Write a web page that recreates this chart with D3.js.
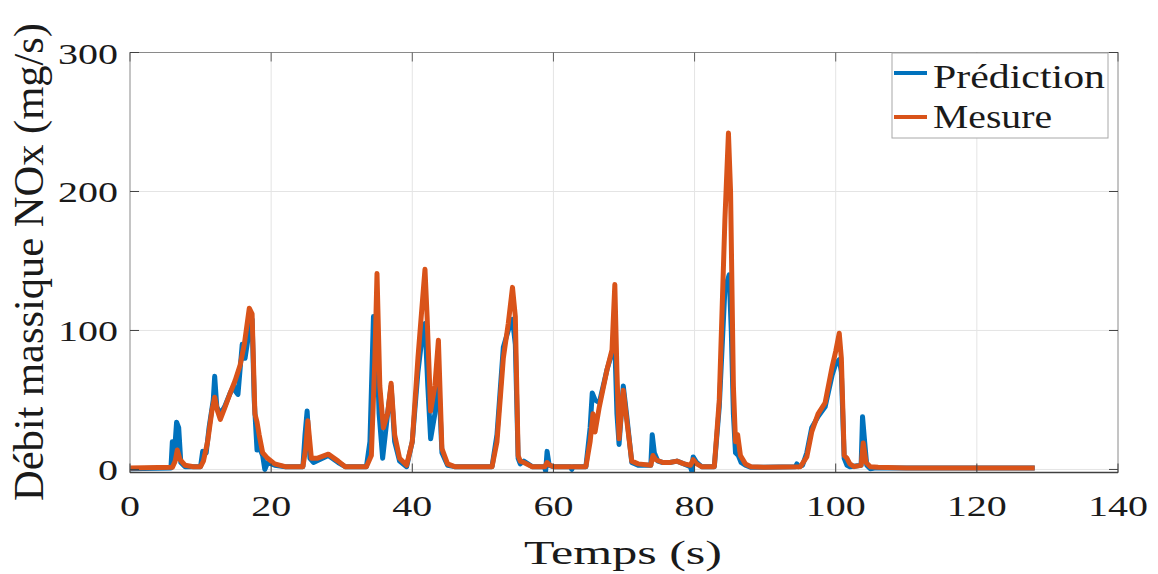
<!DOCTYPE html>
<html>
<head>
<meta charset="utf-8">
<script src="https://cdn.jsdelivr.net/npm/d3@7"></script>
<style>
  html, body { margin: 0; padding: 0; background: #fff; }
  svg { display: block; }
  text { font-family: "Liberation Serif", "DejaVu Serif", "Times New Roman", serif; fill: #1a1a1a; font-weight: normal; }
</style>
</head>
<body>
<svg id="chart" width="1158" height="574"></svg>
<script>
// ---------------- DATA ----------------
const xTicks = [0, 20, 40, 60, 80, 100, 120, 140];
const yTicks = [0, 100, 200, 300];
const seriesNames = ["Prédiction", "Mesure"];
const xLabel = "Temps (s)";
const yLabel = "Débit massique NOx (mg/s)";

// Prédiction (blue)
const timePred = [0, 5.8, 6.0, 6.3, 6.6, 6.9, 7.2, 7.8, 10.0, 10.3, 10.8, 11.2, 11.8, 12.0, 12.3, 12.8, 13.4, 14.2, 14.7, 15.0, 15.3, 15.9, 16.3, 16.9, 17.3, 17.6, 18.0, 18.4, 18.8, 19.1, 19.5, 20.5, 22,
  24.5, 24.8, 25.1, 25.5, 26, 28.1, 29.5, 30.5, 33.5, 34.0, 34.5, 34.9, 35.3, 35.8, 36.5, 37.0, 37.5, 38.2, 39.2, 40.0, 40.8, 41.5, 41.8, 42.2, 42.6, 43.2, 43.7, 44.2, 45.0, 46,
  51.3, 52.0, 52.9, 53.6, 54.2, 54.6, 55.0, 55.3, 55.8, 57, 58.7, 58.9, 59.1, 59.4, 60, 62.4, 62.6, 62.8, 64.6, 65.2, 65.5, 65.9, 66.5, 67.6, 68.3, 68.7, 69.0, 69.3, 69.9, 70.4, 71.1, 72,
  73.8, 74.0, 74.3, 74.8, 75.5, 76.5, 77.5, 78.5, 79.4, 79.6, 79.8, 80.3, 81, 82.8, 83.5, 84.3, 84.9, 85.2, 85.5, 85.8, 86.2, 86.6, 87.2, 88, 94.3, 94.5, 94.7, 95.3, 95.9, 96.6, 97.5, 98.5,
  99.5, 100.0, 100.5, 100.8, 101.2, 101.6, 102.0, 103.6, 103.8, 104.1, 104.4, 104.9, 105.5, 110, 120, 128.2];
const valPred = [0.5, 1, 20, 12, 34, 30, 5, 2, 2, 13, 12, 30, 50, 67, 45, 40, 45, 55, 60, 56, 54, 90, 80, 100, 108, 50, 14, 15, 10, 0, 5, 3, 2,
  2, 25, 42, 8, 5, 10, 5, 2, 2, 20, 110, 100, 40, 8, 40, 60, 20, 6, 2, 20, 70, 100, 105, 60, 22, 40, 70, 12, 3, 2,
  2, 25, 88, 100, 108, 90, 8, 4, 6, 2, 2, -1, 13, 3, 2, 2, 0, 2, 2, 30, 55, 50, 48, 72, 84, 90, 40, 18, 60, 38, 5, 3,
  3, 25, 12, 6, 5, 5, 6, 4, 2, -1, 9, 5, 2, 2, 45, 130, 140, 100, 40, 12, 10, 5, 3, 1.5, 2, 4, 2, 3, 12, 30, 38, 45,
  68, 76, 79, 70, 8, 3, 2, 3, 38, 20, 3, 0.5, 1, 1, 1, 1];

// Mesure (orange)
const timeMes = [0, 6.0, 6.4, 6.7, 7.1, 7.8, 9.0, 10.0, 10.4, 11.0, 11.6, 12.0, 12.4, 12.8, 13.4, 14.2, 14.9, 15.6, 16.2, 16.9, 17.3, 17.7, 18.0, 18.3, 18.8, 19.5, 20.5, 22,
  24.5, 24.9, 25.2, 25.7, 26.5, 28.1, 29.5, 30.5, 33.5, 34.2, 34.7, 35.0, 35.4, 35.9, 36.5, 37.0, 37.5, 38.2, 39.2, 40.0, 40.8, 41.5, 41.8, 42.1, 42.6, 43.2, 43.7, 44.2, 45.0, 46,
  51.3, 52.0, 52.9, 53.6, 54.2, 54.6, 55.0, 55.3, 55.8, 57, 58.8, 59.1, 59.5, 60, 64.6, 65.2, 65.6, 65.9, 66.5, 67.6, 68.3, 68.7, 69.0, 69.3, 69.9, 70.4, 71.1, 72,
  73.8, 74.1, 74.5, 75.5, 76.5, 77.5, 78.5, 79.4, 79.8, 80.3, 81, 82.8, 83.5, 84.3, 84.8, 85.1, 85.5, 85.8, 86.1, 86.5, 87.2, 88, 90, 95.0, 95.9, 96.6, 97.5, 98.5,
  99.5, 100.0, 100.5, 100.8, 101.2, 101.6, 102.0, 102.6, 103.6, 103.9, 104.3, 104.9, 106, 110, 120, 128.2];
const valMes = [1, 1.5, 6, 14, 7, 3, 2, 2, 6, 20, 42, 52, 42, 36, 44, 55, 64, 75, 90, 116, 112, 40, 34, 25, 12, 8, 4, 2,
  2, 15, 35, 8, 8, 11, 6, 2, 2, 10, 80, 141, 60, 30, 40, 62, 25, 8, 3, 20, 80, 125, 144, 110, 42, 60, 93, 15, 4, 2,
  2, 20, 80, 105, 131, 110, 10, 6, 5, 2, 2, 5, 3, 2, 2, 20, 40, 27, 45, 72, 86, 133, 70, 22, 57, 35, 6, 4,
  3, 10, 7, 5, 5, 6, 4, 3, 7, 4, 2, 2, 50, 180, 242, 200, 60, 20, 25, 10, 4, 2, 1.5, 2, 9, 27, 40, 48,
  74, 85, 98, 80, 10, 8, 4, 2, 3, 19, 5, 2, 1.5, 1, 1, 1];

// ---------------- LAYOUT ----------------
const svg = d3.select("#chart");
const L = 130, R = 1118, T = 52.5, B = 472.5;
const x = d3.scaleLinear().domain([0, 140]).range([L, R]);
const y = d3.scaleLinear().domain([-2.2, 300]).range([B, T]);
const blue = "#0072BD", orange = "#D95319";

// grid
svg.append("g").selectAll("line").data(xTicks.slice(1, -1)).join("line")
  .attr("x1", d => x(d)).attr("x2", d => x(d)).attr("y1", T).attr("y2", B)
  .attr("stroke", "#e4e4e4").attr("stroke-width", 1);
svg.append("g").selectAll("line").data(yTicks.slice(0, -1)).join("line")
  .attr("x1", L).attr("x2", R).attr("y1", d => y(d)).attr("y2", d => y(d))
  .attr("stroke", "#e4e4e4").attr("stroke-width", 1);

// clip
svg.append("clipPath").attr("id", "clip").append("rect")
  .attr("x", L).attr("y", T).attr("width", R - L).attr("height", B - T);

const line = d3.line().x(d => x(d[0])).y(d => y(d[1])).curve(d3.curveLinear);
const predData = timePred.map((t, i) => [t, valPred[i]]);
const mesData = timeMes.map((t, i) => [t, valMes[i]]);

const plot = svg.append("g").attr("clip-path", "url(#clip)");
plot.append("path").datum(predData).attr("d", line)
  .attr("fill", "none").attr("stroke", blue).attr("stroke-width", 5)
  .attr("stroke-linejoin", "round");
plot.append("path").datum(mesData).attr("d", line)
  .attr("fill", "none").attr("stroke", orange).attr("stroke-width", 5)
  .attr("stroke-linejoin", "round");

// axes box
svg.append("rect").attr("x", L).attr("y", T).attr("width", R - L).attr("height", B - T)
  .attr("fill", "none").attr("stroke", "#8a8a8a").attr("stroke-width", 1);
svg.append("line").attr("x1", L).attr("x2", R).attr("y1", B).attr("y2", B)
  .attr("stroke", "#404040").attr("stroke-width", 1.3);

// ticks (inward, all sides)
const tk = 9;
xTicks.forEach(d => {
  svg.append("line").attr("x1", x(d)).attr("x2", x(d)).attr("y1", B).attr("y2", B - tk)
    .attr("stroke", "#404040").attr("stroke-width", 1);
  svg.append("line").attr("x1", x(d)).attr("x2", x(d)).attr("y1", T).attr("y2", T + tk)
    .attr("stroke", "#606060").attr("stroke-width", 1);
});
yTicks.forEach(d => {
  svg.append("line").attr("x1", L).attr("x2", L + tk).attr("y1", y(d)).attr("y2", y(d))
    .attr("stroke", "#404040").attr("stroke-width", 1);
  svg.append("line").attr("x1", R).attr("x2", R - tk).attr("y1", y(d)).attr("y2", y(d))
    .attr("stroke", "#404040").attr("stroke-width", 1);
});

// tick labels
svg.append("g").selectAll("text").data(xTicks).join("text")
  .attr("x", d => x(d)).attr("y", 516)
  .attr("text-anchor", "middle").attr("font-size", 30)
  .attr("textLength", d => String(d).length * 20).attr("lengthAdjust", "spacingAndGlyphs")
  .text(d => d);
svg.append("g").selectAll("text").data(yTicks).join("text")
  .attr("x", 118).attr("y", d => y(d) + 11)
  .attr("text-anchor", "end").attr("font-size", 30)
  .attr("textLength", d => String(d).length * 20).attr("lengthAdjust", "spacingAndGlyphs")
  .text(d => d);

// axis labels
svg.append("text").attr("x", 623).attr("y", 564).attr("text-anchor", "middle")
  .attr("font-size", 34).attr("textLength", 198).attr("lengthAdjust", "spacingAndGlyphs")
  .text(xLabel);
svg.append("text").attr("transform", "translate(43,262) rotate(-90)")
  .attr("text-anchor", "middle").attr("font-size", 42)
  .attr("textLength", 478).attr("lengthAdjust", "spacingAndGlyphs")
  .text(yLabel);

// legend
const lg = svg.append("g");
lg.append("rect").attr("x", 892).attr("y", 53).attr("width", 216).attr("height", 85)
  .attr("fill", "#fff").attr("stroke", "#a8a8a8").attr("stroke-width", 1);
const legendItems = [
  { name: seriesNames[0], color: blue, yLine: 73, yText: 88, w: 172 },
  { name: seriesNames[1], color: orange, yLine: 117, yText: 128, w: 119 }
];
legendItems.forEach(it => {
  lg.append("line").attr("x1", 894).attr("x2", 927).attr("y1", it.yLine).attr("y2", it.yLine)
    .attr("stroke", it.color).attr("stroke-width", 4);
  lg.append("text").attr("x", 933).attr("y", it.yText).attr("font-size", 33)
    .attr("textLength", it.w).attr("lengthAdjust", "spacingAndGlyphs").text(it.name);
});
</script>
</body>
</html>
